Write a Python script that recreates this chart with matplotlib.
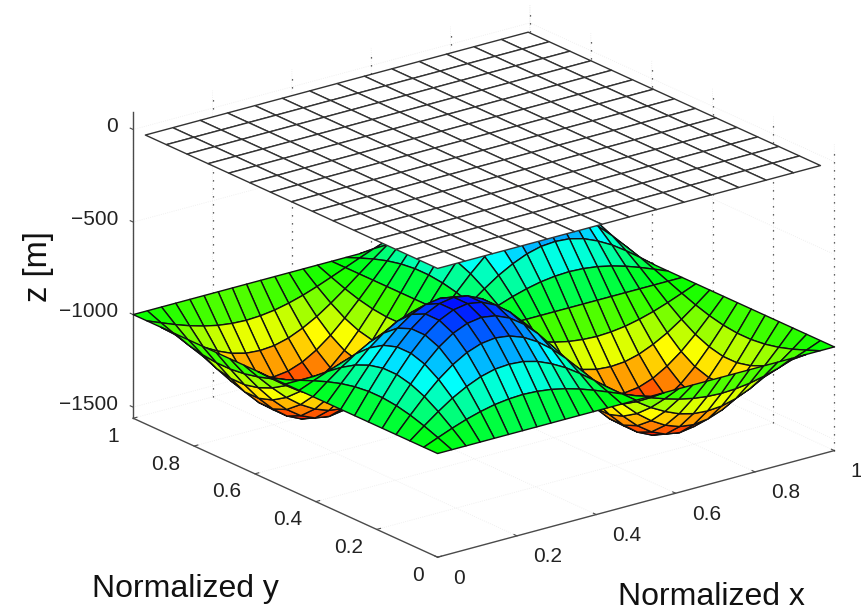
import matplotlib
matplotlib.use("Agg")
import matplotlib.pyplot as plt
from matplotlib.colors import LinearSegmentedColormap
from mpl_toolkits.mplot3d import proj3d
import numpy as np

plt.rcParams['font.family'] = ['Liberation Sans', 'DejaVu Sans']

# node positions along normalized x and y for the bathymetry mesh
x_nodes = [i / 28 for i in range(29)]
y_nodes = [j / 22 for j in range(23)]

# sea bed depth [m], one row per y node
flat = [-1000] * 29
row_a = [-1000,-969,-939,-912,-890,-873,-863,-859,-863,-873,-890,-912,-939,-969,-1000,-1031,-1061,-1088,-1110,-1127,-1137,-1141,-1137,-1127,-1110,-1088,-1061,-1031,-1000]
row_b = [-1000,-940,-883,-831,-789,-756,-736,-730,-736,-756,-789,-831,-883,-940,-1000,-1060,-1117,-1169,-1211,-1244,-1264,-1270,-1264,-1244,-1211,-1169,-1117,-1060,-1000]
row_c = [-1000,-916,-836,-764,-705,-660,-632,-622,-632,-660,-705,-764,-836,-916,-1000,-1084,-1164,-1236,-1295,-1340,-1368,-1378,-1368,-1340,-1295,-1236,-1164,-1084,-1000]
row_d = [-1000,-899,-803,-716,-644,-590,-557,-545,-557,-590,-644,-716,-803,-899,-1000,-1101,-1197,-1284,-1356,-1410,-1443,-1455,-1443,-1410,-1356,-1284,-1197,-1101,-1000]
row_e = [-1000,-890,-785,-691,-613,-554,-518,-505,-518,-554,-613,-691,-785,-890,-1000,-1110,-1215,-1309,-1387,-1446,-1482,-1495,-1482,-1446,-1387,-1309,-1215,-1110,-1000]
row_f = [-1000,-1031,-1061,-1088,-1110,-1127,-1137,-1141,-1137,-1127,-1110,-1088,-1061,-1031,-1000,-969,-939,-912,-890,-873,-863,-859,-863,-873,-890,-912,-939,-969,-1000]
row_g = [-1000,-1060,-1117,-1169,-1211,-1244,-1264,-1270,-1264,-1244,-1211,-1169,-1117,-1060,-1000,-940,-883,-831,-789,-756,-736,-730,-736,-756,-789,-831,-883,-940,-1000]
row_h = [-1000,-1084,-1164,-1236,-1295,-1340,-1368,-1378,-1368,-1340,-1295,-1236,-1164,-1084,-1000,-916,-836,-764,-705,-660,-632,-622,-632,-660,-705,-764,-836,-916,-1000]
row_i = [-1000,-1101,-1197,-1284,-1356,-1410,-1443,-1455,-1443,-1410,-1356,-1284,-1197,-1101,-1000,-899,-803,-716,-644,-590,-557,-545,-557,-590,-644,-716,-803,-899,-1000]
row_j = [-1000,-1110,-1215,-1309,-1387,-1446,-1482,-1495,-1482,-1446,-1387,-1309,-1215,-1110,-1000,-890,-785,-691,-613,-554,-518,-505,-518,-554,-613,-691,-785,-890,-1000]
depth = [flat, row_a, row_b, row_c, row_d, row_e, row_e, row_d, row_c, row_b, row_a,
         flat, row_f, row_g, row_h, row_i, row_j, row_j, row_i, row_h, row_g, row_f, flat]

# sea surface mesh, a bit smaller than the unit box
plane_x = [0, .069, .138, .207, .276, .345, .414, .483, .552, .621, .690, .759, .828, .897, .965]
plane_y = [0, .069, .137, .206, .274, .343, .411, .480, .549, .617, .686, .754, .823, .891, .960]

xy_ticks = [0, 0.2, 0.4, 0.6, 0.8, 1]
xy_labels = ["0", "0.2", "0.4", "0.6", "0.8", "1"]
z_ticks = [-1500, -1000, -500, 0]
z_labels = ["\u22121500", "\u22121000", "\u2212500", "0"]

axis_col = "#4a4a4a"
# red at -1450, yellow -1225, green -1000, cyan -770, blue -490
cmap = LinearSegmentedColormap.from_list(
    "depth", [(0, "#ff2000"), (.234, "#ffff00"), (.469, "#00ff00"), (.708, "#00ffff"), (1, "#0000ff")])

fig = plt.figure(figsize=(8.61, 6.11), dpi=100)
ax = fig.add_axes([45 / 861, 16 / 611, 1, 1], projection="3d", proj_type="ortho", computed_zorder=False)
ax.view_init(elev=20.5, azim=-127.5)
ax.set_box_aspect((500, 500, 327), zoom=1.238)

X, Y = np.meshgrid(x_nodes, y_nodes)
Z = np.array(depth, dtype=float)

# dark dotted verticals on the two back walls
dots = (0, (1, 5.4))
for t in xy_ticks[1:]:
    ax.plot([t, t], [1, 1], [-1560, 70], color="#333333", ls=dots, lw=0.9, zorder=1, clip_on=False)
for t in xy_ticks[:-1]:
    ax.plot([1, 1], [t, t], [-1560, 70], color="#333333", ls=dots, lw=0.9, zorder=1, clip_on=False)

sea_bed = ax.plot_surface(X, Y, Z, rstride=1, cstride=1, cmap=cmap, vmin=-1450, vmax=-490,
                          edgecolor="#111111", linewidth=1.0, shade=False, antialiased=True, zorder=2)
PX, PY = np.meshgrid(plane_x, plane_y)
sea_top = ax.plot_surface(PX, PY, np.zeros_like(PX), rstride=1, cstride=1, color="white",
                          edgecolor="#333333", linewidth=1.0, shade=False, zorder=3)
sea_bed.set_clip_on(False)
sea_top.set_clip_on(False)

ax.set_xlim(0, 1, view_margin=0)
ax.set_ylim(0, 1, view_margin=0)
ax.set_zlim(-1560, 95, view_margin=0)
ax.set_xticks(xy_ticks, [""] * 6)
ax.set_yticks(xy_ticks, [""] * 6)
ax.set_zticks(z_ticks, [""] * 4)

for axis in (ax.xaxis, ax.yaxis, ax.zaxis):
    axis.pane.set_visible(False)
    axis.line.set_color(axis_col)
    axis.line.set_linewidth(1.0)
    axis._axinfo["grid"].update(color="#ececec", linestyle=":", linewidth=0.6)
    axis._axinfo["tick"].update(inward_factor=0.0, outward_factor=0.12)
ax.tick_params(axis="both", colors=axis_col)

# z ticks point along y in the reference
ax.zaxis._get_tickdir = lambda pos: 1


# tick labels hang off the tick by one edge, which the 3d axis can't do
def tick_text(text, x, y, z, dx, dy, ha):
    px, py, _ = proj3d.proj_transform(x, y, z, ax.get_proj())
    ax.annotate(text, (px, py), xycoords="data", xytext=(dx, dy), textcoords="offset pixels",
                ha=ha, va="center", fontsize=15, color="#222222", annotation_clip=False)


for t, lab in zip(xy_ticks, xy_labels):
    tick_text(lab, t, 0, -1560, 16, -21, "left")
    tick_text(lab, 0, t, -1560, -14, -18, "right")
for t, lab in zip(z_ticks, z_labels):
    tick_text(lab, 0, 1, t, -15, 3, "right")

fig.text(185 / 861, 1 - 589 / 611, "Normalized y", fontsize=23, ha="center", va="center", color="#111111")
fig.text(711 / 861, 1 - 597 / 611, "Normalized x", fontsize=23, ha="center", va="center", color="#111111")
fig.text(38 / 861, 1 - 267 / 611, "z [m]", fontsize=23.5, rotation=90, ha="center", va="center", color="#111111")

fig.savefig("out.png", dpi=100)
